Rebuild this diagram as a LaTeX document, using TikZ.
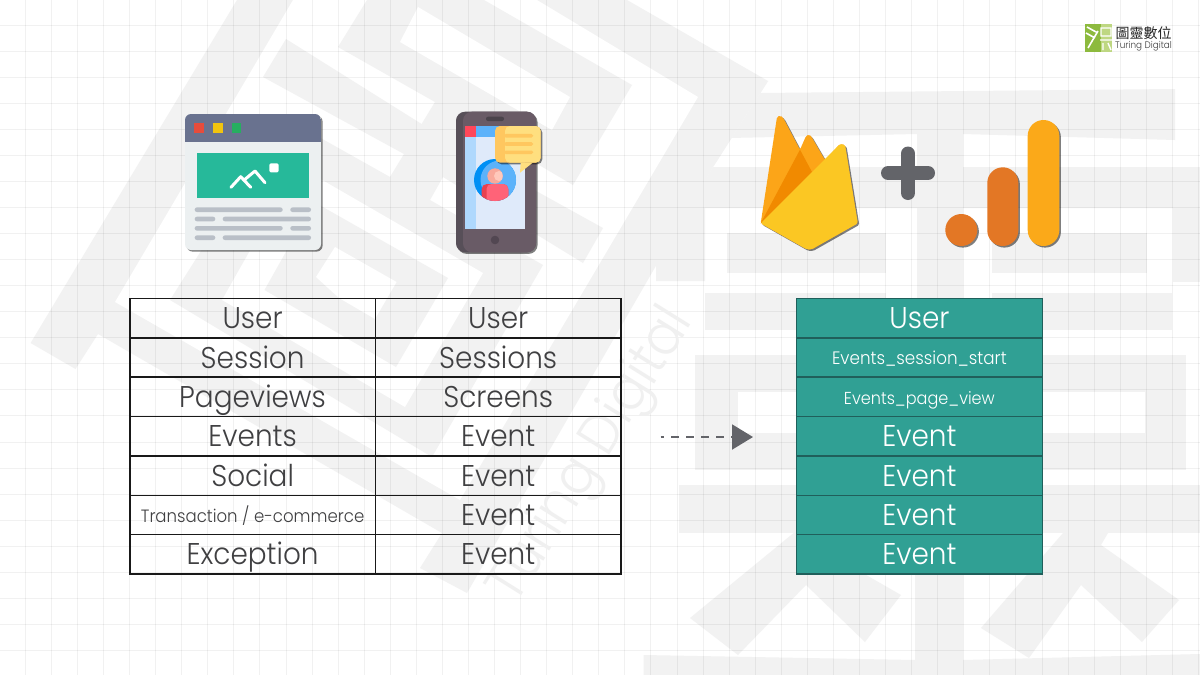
\documentclass[tikz,border=0pt]{standalone}
\usepackage{fontspec}
\setmainfont{Poppins}[UprightFont=* Light,FakeStretch=0.93]
\newfontfamily\cjkfont{Noto Sans CJK TC}
\usetikzlibrary{arrows.meta,shadows}
\definecolor{wm}{HTML}{F2F2F2}
\definecolor{inkc}{HTML}{404042}
\definecolor{tealc}{HTML}{30A094}
\definecolor{teald}{HTML}{205F5B}
\definecolor{plusc}{HTML}{636469}
\definecolor{brbody}{HTML}{ECF0F1}
\definecolor{brhead}{HTML}{69728F}
\definecolor{brred}{HTML}{E74C3C}
\definecolor{bryel}{HTML}{F1C40F}
\definecolor{brgrn}{HTML}{27AE60}
\definecolor{brimg}{HTML}{26B99A}
\definecolor{brline}{HTML}{B9BFC7}
\definecolor{phdark}{HTML}{574F58}
\definecolor{phbody}{HTML}{695B66}
\definecolor{phscreen}{HTML}{DFEAFA}
\definecolor{phside}{HTML}{AFD8FD}
\definecolor{phblue}{HTML}{5CB2FA}
\definecolor{phdeep}{HTML}{0090F5}
\definecolor{phred}{HTML}{FF475A}
\definecolor{phspk}{HTML}{4A434B}
\definecolor{phbtn}{HTML}{524752}
\definecolor{skina}{HTML}{F9A99B}
\definecolor{skinb}{HTML}{FFC8BB}
\definecolor{shirta}{HTML}{E8404F}
\definecolor{shirtb}{HTML}{FF6378}
\definecolor{buba}{HTML}{FFC75F}
\definecolor{bubb}{HTML}{FFDF7F}
\definecolor{fba}{HTML}{FCA518}
\definecolor{fbb}{HTML}{F18A00}
\definecolor{fbc}{HTML}{FBC723}
\definecolor{gaa}{HTML}{E37725}
\definecolor{gab}{HTML}{FBA919}
\definecolor{logoa}{HTML}{8DBA3E}
\definecolor{logob}{HTML}{BED782}
\tikzset{
  wmfill/.style={fill=wm,draw=none},
  wmcut/.style={fill=white,draw=none},
  gridline/.style={draw=black,draw opacity=.055,line width=1pt},
  cellL/.style={draw=black!90,line width=1.5pt,minimum width=245.6pt,minimum height=39.37pt,inner sep=0pt,text=inkc,text height=27pt,text depth=6pt,font=\fontsize{30}{32}\selectfont},
  cellS/.style={text height=20.2pt,text depth=5.5pt,font=\fontsize{17.8}{20}\selectfont},
  cellR/.style={draw=teald,fill=tealc,line width=1.5pt,minimum width=246pt,minimum height=39.37pt,inner sep=0pt,text=white,text height=27pt,text depth=6pt,font=\fontsize{30}{32}\selectfont},
  cellT/.style={text height=20.2pt,text depth=5.5pt,font=\fontsize{18}{20}\selectfont},
  cellU/.style={text height=20.2pt,text depth=5.5pt,font=\fontsize{17.3}{20}\selectfont},
  iconshadow/.style={drop shadow={shadow xshift=1.6pt,shadow yshift=-1.6pt,opacity=.5,fill=black}},
  linebar/.style={fill=#1,rounded corners=2.2pt,draw=none},
}
\begin{document}
\begin{tikzpicture}[x=1pt,y=-1pt]
\useasboundingbox (0,0) rectangle (1200,675);
\fill[white] (0,0) rectangle (1200,675);
% ---------- watermark, left glyph
\begin{scope}
\clip (0,0) rectangle (1200,675);
\path[wmfill] (237,0)--(30.6,343)--(75.5,369)--(98,334)--(442,533)--(420,568)--(467,593)--(713,167)--(768,81)--(627,0)--cycle;
\path[wmcut] (293,0)--(115,302)--(460,500)--(698,97)--(537,0)--cycle;
\path[wmfill] (367,0)--(484,0)--(632,85)--(573,185)--(500,142)--(500,171)--(603,228)--(583,263)--(443,177)--(430,200)--(543,265)--(432,457)--(170,300)--(285,118)--(390,177)--(404,154)--(263,77)--(286,39)--(421.6,124)--(435,102)--(338,47)--cycle;
\path[wmcut] (418,7)--(570,97)--(552,130)--(400,42)--cycle;
\path[wmcut] (298,166)--(483,273)--(405,407)--(222,300)--cycle;
\path[wmfill] (314,202)--(448,278)--(396,367)--(264.5,290)--cycle;
\path[wmcut] (335,247)--(396.6,282)--(375,319)--(339,298)--(316,277)--cycle;
% ---------- watermark, right glyph
\path[wmfill] (768,81)--(759,93)--(1175,89)--(1175,140)--(963,134)--(917,134)--(729,138)--(713,167)--cycle;
\path[wmfill] (713,167)--(1200,167)--(1200,208)--(705,208)--(705,281)--(656,281)--(656,263)--cycle;
\path[wmfill] (917,134) rectangle (963,298);
\path[wmfill] (727,233) rectangle (886,273);
\path[wmfill] (992,233) rectangle (1147,273);
\path[wmfill] (1173,208) rectangle (1200,282);
\path[wmfill] (705,293) rectangle (886,330);
\path[wmfill] (992,293) rectangle (1172,330);
\path[wmfill] (695,355) rectangle (1186,470);
\path[wmcut] (738,392) rectangle (850,433);
\path[wmcut] (1000,392) rectangle (1145,433);
\path[wmfill] (679,485) rectangle (1200,533);
\path[wmfill] (793.6,533)--(690,618)--(738,655)--(806,585)--(865,642)--(901,595)--(833,556)--(840,533)--cycle;
\path[wmfill] (1063,533)--(981,628)--(1029,658)--(1081,585)--(1142,642)--(1179,600)--(1101,545)--(1108,533)--cycle;
\path[wmfill] (915,533) rectangle (963,660);
\path[wmfill] (643.6,655)--(915,660)--(963,660)--(1200,654)--(1200,675)--(643.6,675)--cycle;
\end{scope}
% ---------- grid
\foreach \k in {0,...,45} {\draw[gridline] ({25.3+26.07*\k},0)--({25.3+26.07*\k},675);}
\foreach \k in {0,...,24} {\draw[gridline] (0,{25.2+26.05*\k})--(1200,{25.2+26.05*\k});}
% ---------- watermark text
\node[rotate=58,text=black!6,font=\fontsize{56}{58}\selectfont] (wmtext) at (593,456) {Turing Digital};
% ---------- browser icon
\path[iconshadow,fill=brbody,rounded corners=6pt] (185,114) rectangle (321,250);
\begin{scope}
\clip[rounded corners=6pt] (185,114) rectangle (321,250);
\fill[brhead] (185,114) rectangle (321,141.5);
\end{scope}
\fill[brred] (194.3,123.3) rectangle (203.7,132.7);
\fill[bryel] (213.3,123.3) rectangle (222.7,132.7);
\fill[brgrn] (232,123.3) rectangle (241.3,132.7);
\fill[brimg] (196.7,153.3) rectangle (308.7,198);
\draw[white,line width=3pt,line cap=round,line join=round] (231,187.3)--(240.7,176.7)--(250.7,187.3) (245,179.3)--(255,171)--(265,182.7);
\fill[white,rounded corners=1.5pt] (269.3,163.3) rectangle (278.7,172.3);
\foreach \yy/\a/\b/\c/\d in {209.7/194.7/282.7/290.3/311,219/194.7/215.3/222.7/311,228.3/194.7/282.7/290.3/311,237.7/194.7/215.3/222.7/311}{
  \path[linebar=brline] (\a,\yy-2.3) rectangle (\b,\yy+2.3);
  \path[linebar=brline] (\c,\yy-2.3) rectangle (\d,\yy+2.3);
}
% ---------- phone icon
\path[iconshadow,fill=phdark,rounded corners=9pt] (456,111.7) rectangle (536,252.3);
\path[fill=phbody,rounded corners=9pt] (463,111.7) rectangle (536,252.3);
\fill[phscreen] (465,126) rectangle (525,229.3);
\fill[phside] (465,126) rectangle (476,229.3);
\fill[phblue] (476,126) rectangle (525,137);
\fill[phred] (465,126) rectangle (476,137);
\path[fill=phspk,rounded corners=2pt] (486,116.7) rectangle (504,121);
\fill[phbtn] (495,240) circle[radius=4.3pt];
\fill[phdeep] (495,180) circle[radius=21pt];
\begin{scope}
\clip (495,180) circle[radius=21pt];
\fill[phblue] (500,180) circle[radius=19.5pt];
\path[fill=shirta,rounded corners=5pt] (481.7,184) rectangle (508.3,205);
\path[fill=shirtb,rounded corners=5pt] (486.5,184) rectangle (508.3,205);
\end{scope}
\fill[skina] (495,176) circle[radius=7.7pt];
\begin{scope}
\clip (495,176) circle[radius=7.7pt];
\fill[skinb] (499,176) circle[radius=5pt];
\end{scope}
\path[iconshadow,fill=buba,rounded corners=5pt] (495,126) rectangle (540.7,162.7);
\path[fill=bubb,rounded corners=5pt] (505,126) rectangle (540.7,162.7);
\fill[bubb] (520.7,162.5)--(520,172.7)--(533,162.5)--cycle;
\foreach \yy in {135.7,144,152.3}{\path[linebar=buba,rounded corners=1.7pt] (504,\yy-1.8) rectangle (533.3,\yy+1.8);}
% ---------- firebase
\path[iconshadow,fill=fba,rounded corners=1.5pt] (760.7,223.3)--(777,117)--(780,115.5)--(783,117.5)--(800,149.7)--(806,136)--(809,134.5)--(811,136)--(825,160)--(840,144)--(845,145)--(857.7,223.3)--(811.7,249.3)--(806.7,249.3)--cycle;
\fill[fbb] (760.7,223.3)--(800,149.7)--(812,172)--cycle;
\path[fill=fbc,rounded corners=1.5pt] (760.7,223.3)--(840,144)--(845,145)--(857.7,223.3)--(811.7,249.3)--(806.7,249.3)--cycle;
% ---------- plus
\draw[plusc,line width=14pt,line cap=round] (888,173)--(928,173) (908,153.5)--(908,193);
% ---------- analytics
\path[iconshadow,fill=gaa] (961.3,230) circle[radius=16pt];
\path[iconshadow,fill=gaa,rounded corners=15.5pt] (987.3,167.3) rectangle (1018.3,246);
\path[iconshadow,fill=gab,rounded corners=15.8pt] (1027.7,120) rectangle (1059.3,246);
% ---------- left table
\foreach \i/\txt [evaluate=\i as \yy using {298.5+39.37*(\i-0.5)}] in {1/User,2/Session,3/Pageviews,4/Events,5/Social,7/Exception}{
  \node[cellL] (l\i) at (252.6,\yy) {\txt};
}
\node[cellL,cellS] (l6) at (252.6,495.35+19.68) {Transaction / e-commerce};
\foreach \i/\txt [evaluate=\i as \yy using {298.5+39.37*(\i-0.5)}] in {1/User,2/Sessions,3/Screens,4/Event,5/Event,6/Event,7/Event}{
  \node[cellL] (m\i) at (498.2,\yy) {\txt};
}
% ---------- right table
\foreach \i/\txt [evaluate=\i as \yy using {298.5+39.37*(\i-0.5)}] in {1/User,4/Event,5/Event,6/Event,7/Event}{
  \node[cellR] (r\i) at (919.4,\yy) {\txt};
}
\node[cellR,cellT] (r2) at (919.4,298.5+39.37*1.5) {Events\_session\_start};
\node[cellR,cellU] (r3) at (919.4,298.5+39.37*2.5) {Events\_page\_view};
% ---------- arrow
\coordinate (arrowfrom) at (660.7,437);
\coordinate (arrowto) at (753,437);
\draw[plusc,line width=2pt,dash pattern=on 8pt off 7pt,dash phase=4.5pt,-{Triangle[length=21pt,width=25pt,fill=plusc]}] (arrowfrom)--(arrowto);
% ---------- logo
\fill[logoa] (1085,24) rectangle (1101,51.5);
\fill[logob] (1101,24) rectangle (1112,51.5);
\draw[white,line width=1.6pt] (1087,27)--(1096,32) (1086,33)--(1095,38) (1088,48)--(1098,31);
\draw[white,line width=1.4pt] (1101,28) rectangle (1111,36) (1100,40)--(1112,40) (1103,43)--(1103,50) (1108,43)--(1111,50);
\node[inner sep=0pt,anchor=west,text=black!85,font={\cjkfont\fontsize{14}{14}\selectfont}] (logozh) at (1115.5,33.5) {圖靈數位};
\node[inner sep=0pt,anchor=west,text=black!75,font=\fontsize{9.5}{11}\selectfont] (logoen) at (1115,46) {Turing Digital};
\end{tikzpicture}
\end{document}
